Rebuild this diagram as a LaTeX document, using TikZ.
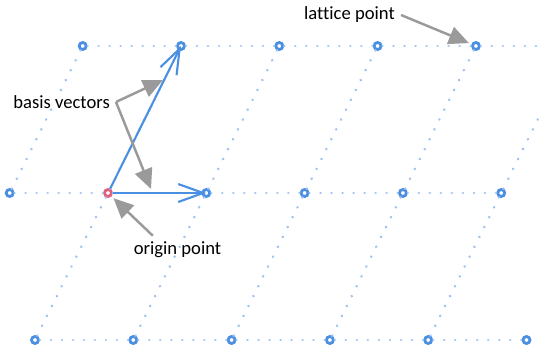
\documentclass[tikz,border=0pt]{standalone}
\usepackage{fontspec}
\setmainfont{Carlito}[Ligatures=NoCommon]
\usetikzlibrary{arrows.meta}
\definecolor{latblue}{HTML}{4A8FE2}
\definecolor{latdots}{HTML}{9DC2F0}
\definecolor{orgred}{HTML}{E2607E}
\definecolor{notegray}{HTML}{9A9A9A}
\begin{document}
\begin{tikzpicture}[x={(1.966cm,0cm)},y={(1.46cm,2.94cm)},
		latpt/.style={circle,draw=latblue,fill=white,line width=1.6pt,inner sep=0pt,minimum size=0.14cm},
		pt11/.style={draw=orgred},
		latline/.style={draw=latdots,line width=1.6pt,line cap=round,dash pattern=on 0.01pt off 0.22cm},
		note/.style={font=\fontsize{10.6}{12}\selectfont},
		noteline/.style={color=notegray,line width=1.4pt,-{Triangle[length=0.4cm,width=0.36cm]}},
		basis/.style={color=latblue,line width=1.2pt,-{Straight Barb[length=0.5cm,width=0.36cm]}}]
			\clip (-2.16cm,-3.16cm) rectangle (8.62cm,3.86cm);
			
			% lattice points, row by row
			\foreach \j/\from/\to in {0/1/6,1/0/5,2/0/5}
				\foreach \i in {\from,...,\to}
					\node[latpt,pt\i\j/.try] (p\i\j) at ({\i-1},{\j-1}) {};
			
			% dotted lattice lines
			\foreach \j/\from/\to in {0/1/5,1/0/4,2/0/4}
				\foreach \i in {\from,...,\to}{
					\pgfmathtruncatemacro{\nxt}{\i+1}
					\draw[latline] (p\i\j) -- (p\nxt\j);
				}
			\foreach \i in {1,...,5}
				\draw[latline] (p\i0) -- (p\i1);
			\foreach \i in {0,...,5}
				\draw[latline] (p\i1) -- (p\i2);
			
			\draw[basis] (p11) -- (p21.center);
			\draw[basis] (p11) -- (p12.center);
			
			\node[note,anchor=east] (basis) at (0.16cm,1.82cm) {basis vectors};
			\node[note,anchor=east] (lattice) at (5.86cm,3.56cm) {lattice point};
			\node[note] (orglabel) at (1.39cm,-1.14cm) {origin point};
			\coordinate (tipA) at (1.10cm,2.26cm);
			\coordinate (tipB) at (0.86cm,0.08cm);
			
			\draw[noteline] (basis.east) -- (tipA);
			\draw[noteline] (basis.east) -- (tipB);
			\draw[noteline,shorten >=1.5pt] (lattice.east) -- (p42);
			\draw[noteline,shorten >=1.5pt] (orglabel.150) -- (p11);
		\end{tikzpicture}
\end{document}
